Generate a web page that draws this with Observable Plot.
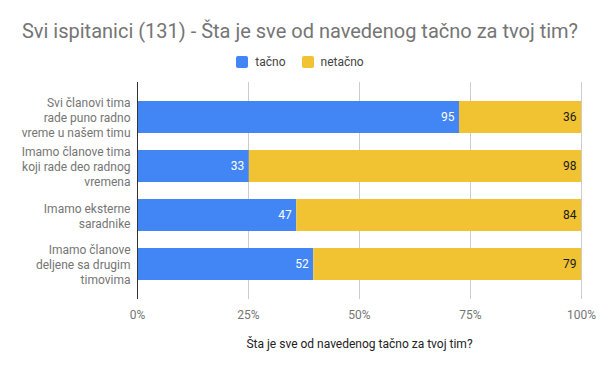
<!DOCTYPE html>
<html>
<head>
<meta charset="utf-8">
<script src="https://cdn.jsdelivr.net/npm/d3@7"></script>
<script src="https://cdn.jsdelivr.net/npm/@observablehq/plot@0.6"></script>
<style>
  body { margin: 0; background: #fff; font-family: Roboto, sans-serif; }
  #title { height: 27px; padding-top: 21px; text-align: center; font-size: 20px; line-height: 20px; color: #757575; }
  #legend { height: 28px; display: flex; justify-content: center; align-items: center; font-size: 12px; color: #444; }
  .sw { width: 12px; height: 12px; border-radius: 2px; display: inline-block; margin-right: 7px; }
  .item { display: flex; align-items: center; margin: 0 8px; }
  svg { display: block; }
</style>
</head>
<body>
<div id="title">Svi ispitanici (131) - Šta je sve od navedenog tačno za tvoj tim?</div>
<div id="legend"></div>
<div id="chart"></div>
<script>
const categories = [
  "Svi članovi tima\nrade puno radno\nvreme u našem timu",
  "Imamo članove tima\nkoji rade deo radnog\nvremena",
  "Imamo eksterne\nsaradnike",
  "Imamo članove\ndeljene sa drugim\ntimovima"
];
const seriesNames = ["tačno", "netačno"];
const tacno = [95, 33, 47, 52];
const netacno = [36, 98, 84, 79];
const xTicks = [0, 0.25, 0.5, 0.75, 1];
const colors = ["#4285f4", "#f1c232"];
const axisTitle = "Šta je sve od navedenog tačno za tvoj tim?";

const data = [
  ...categories.map((c, i) => ({cat: c, series: seriesNames[0], value: tacno[i]})),
  ...categories.map((c, i) => ({cat: c, series: seriesNames[1], value: netacno[i]}))
];

const legend = document.getElementById("legend");
seriesNames.forEach((s, i) => {
  const it = document.createElement("span");
  it.className = "item";
  it.innerHTML = `<span class="sw" style="background:${colors[i]}"></span>${s}`;
  legend.appendChild(it);
});

const chart = Plot.plot({
  width: 600,
  height: 295,
  marginLeft: 137,
  marginRight: 19,
  marginTop: 6,
  marginBottom: 72,
  style: {fontFamily: "Roboto, sans-serif", fontSize: "12px", color: "#757575", background: "white"},
  x: {domain: [0, 1], ticks: xTicks},
  y: {domain: categories, paddingInner: 0.356, paddingOuter: 0.352},
  color: {domain: seriesNames, range: colors},
  marks: [
    Plot.gridX(xTicks.slice(1), {stroke: "#cccccc", strokeOpacity: 1}),
    Plot.barX(data, Plot.stackX({x: "value", y: "cat", fill: "series", z: "series", offset: "normalize"})),
    Plot.text(data, Plot.stackX2({x: "value", y: "cat", z: "series", offset: "normalize",
      text: d => d.series === seriesNames[0] ? String(d.value) : null,
      textAnchor: "end", dx: -5, fill: "white", fontSize: 12})),
    Plot.text(data, Plot.stackX2({x: "value", y: "cat", z: "series", offset: "normalize",
      text: d => d.series === seriesNames[1] ? String(d.value) : null,
      textAnchor: "end", dx: -5, fill: "#1a1a1a", fontSize: 12})),
    Plot.ruleX([0], {stroke: "#333"}),
    Plot.axisY({tickSize: 0, tickPadding: 7, label: null, fill: "#757575", fontSize: 12, lineHeight: 1.25}),
    Plot.axisX(xTicks, {tickSize: 0, tickPadding: 11, label: null, tickFormat: d3.format(".0%"), fill: "#757575", fontSize: 12}),
    Plot.text([axisTitle], {frameAnchor: "bottom", dy: 48, fill: "#222", fontSize: 12})
  ]
});
document.getElementById("chart").appendChild(chart);
</script>
</body>
</html>
